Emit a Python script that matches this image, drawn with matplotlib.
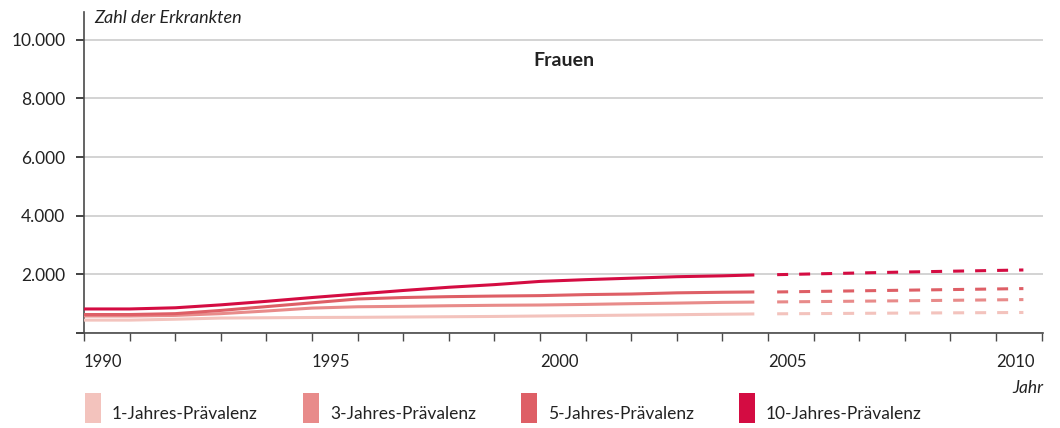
import matplotlib
matplotlib.use("Agg")
import matplotlib.pyplot as plt
from matplotlib.patches import Rectangle
from matplotlib.ticker import FixedLocator, MultipleLocator

plt.rcParams['font.family'] = ['Lato', 'DejaVu Sans']

# ---------------- data ----------------
years_obs = [1990, 1991, 1992, 1993, 1994, 1995, 1996, 1997, 1998, 1999,
             2000, 2001, 2002, 2003, 2004, 2004.7]
prev1_obs = [440, 440, 470, 510, 520, 530, 535, 545, 555, 565,
             580, 595, 610, 625, 640, 650]
prev3_obs = [580, 580, 600, 660, 750, 850, 895, 910, 930, 945,
             955, 975, 1000, 1020, 1045, 1055]
prev5_obs = [630, 630, 660, 770, 900, 1030, 1160, 1210, 1240, 1260,
             1275, 1310, 1330, 1370, 1390, 1400]
prev10_obs = [820, 820, 860, 960, 1080, 1210, 1330, 1450, 1560, 1650,
              1760, 1820, 1870, 1920, 1950, 1980]

years_fc = [2005.2, 2008.0, 2010.6]
prev1_fc = [655, 680, 700]
prev3_fc = [1060, 1100, 1140]
prev5_fc = [1400, 1460, 1515]
prev10_fc = [1990, 2080, 2150]

series_labels = ['1-Jahres-Prävalenz', '3-Jahres-Prävalenz',
                 '5-Jahres-Prävalenz', '10-Jahres-Prävalenz']
series_colors = ['#F3C3BD', '#E88B8A', '#DE5F66', '#D40C42']

ytick_values = [0, 2000, 4000, 6000, 8000, 10000]
ytick_labels = ['', '2.000', '4.000', '6.000', '8.000', '10.000']
xtick_values = [1990, 1995, 2000, 2005, 2010]
xtick_labels = ['1990', '1995', '2000', '2005', '2010']

title = 'Frauen'
ylabel = 'Zahl der Erkrankten'
xlabel = 'Jahr'

# ---------------- figure ----------------
W, H = 1060, 428
fig = plt.figure(figsize=(W / 100, H / 100), dpi=100)
ax = fig.add_axes([84 / W, (H - 333) / H, (1043 - 84) / W, (333 - 12) / H])

ax.set_xlim(1990, 2011.03)
ax.set_ylim(0, 10950)

obs = [prev1_obs, prev3_obs, prev5_obs, prev10_obs]
fc = [prev1_fc, prev3_fc, prev5_fc, prev10_fc]
for o, f, c in zip(obs, fc, series_colors):
    ax.plot(years_obs, o, color=c, lw=2.2, solid_capstyle='butt',
            solid_joinstyle='round', zorder=3)
    ax.plot(years_fc, f, color=c, lw=2.2, dashes=(3.6, 3.6),
            dash_capstyle='butt', zorder=3)

# grid
ax.yaxis.set_major_locator(FixedLocator(ytick_values))
ax.set_yticklabels(ytick_labels)
ax.grid(axis='y', color='#D3D3D3', lw=1.4, zorder=0)
ax.set_axisbelow(True)

ax.xaxis.set_major_locator(FixedLocator(xtick_values))
ax.set_xticklabels(xtick_labels)
ax.xaxis.set_minor_locator(MultipleLocator(1))

for s in ['top', 'right']:
    ax.spines[s].set_visible(False)
for s in ['left', 'bottom']:
    ax.spines[s].set_color('#4A4A4A')
    ax.spines[s].set_linewidth(1.2)

ax.tick_params(axis='y', which='major', length=5.8, width=1.2, color='#222222',
               pad=7.5, labelsize=12.5, labelcolor='#222222')
ax.tick_params(axis='x', which='both', length=5.8, width=1.0, color='#4A4A4A',
               direction='out')
ax.tick_params(axis='x', which='major', pad=9, labelsize=12, labelcolor='#222222')
for lbl in ax.get_xticklabels():
    lbl.set_ha('left')

# texts
fig.text(94 / W, 1 - 18 / H, ylabel, style='italic', fontsize=13,
         color='#222222', ha='left', va='center')
ax.text(0.5, 1 - (61 - 12) / (333 - 12), title, transform=ax.transAxes,
        fontsize=14, fontweight='bold', color='#222222', ha='center', va='center')
fig.text(1043 / W, 1 - 388 / H, xlabel, style='italic', fontsize=12.5,
         color='#222222', ha='right', va='center')

# legend
leg_x = [85, 303, 521, 739]
for x, lab, c in zip(leg_x, series_labels, series_colors):
    fig.add_artist(Rectangle((x / W, 1 - 423 / H), 16 / W, 30 / H,
                             transform=fig.transFigure, color=c, lw=0))
    fig.text((x + 27) / W, 1 - 414 / H, lab, fontsize=12.5, color='#222222',
             ha='left', va='center')

fig.savefig('out.png', dpi=100)
